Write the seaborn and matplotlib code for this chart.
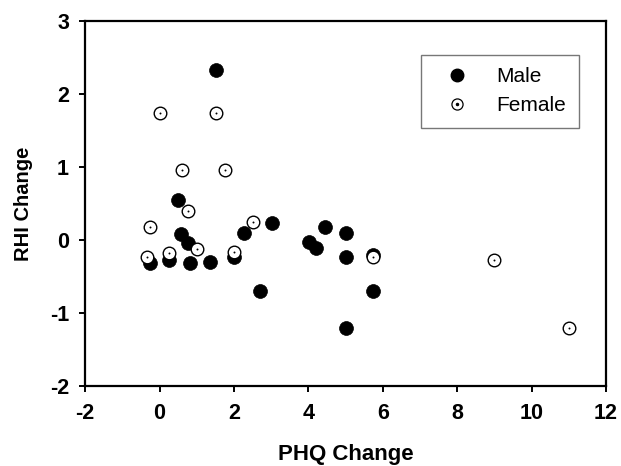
import numpy as np
import pandas as pd
import matplotlib
matplotlib.use("Agg")
import matplotlib.pyplot as plt
import seaborn as sns
from matplotlib.lines import Line2D

# values
male_phq = [1.51, 0.51, 0.59, 0.77, 0.81, -0.25, 0.26, 1.36, 2.01, 2.26,
            3.01, 2.69, 4.01, 4.21, 4.45, 5.0, 5.0, 5.0, 5.75, 5.75]
male_rhi = [2.33, 0.54, 0.08, -0.04, -0.32, -0.31, -0.27, -0.30, -0.23, 0.09,
            0.23, -0.70, -0.03, -0.11, 0.18, 0.09, -0.24, -1.21, -0.70, -0.21]
female_phq = [0.01, 1.51, 0.60, 1.75, 0.77, -0.25, -0.33, 0.26, 1.01, 2.01,
              2.51, 5.75, 9.0, 11.0]
female_rhi = [1.74, 1.74, 0.96, 0.96, 0.39, 0.18, -0.23, -0.18, -0.13, -0.17,
              0.24, -0.23, -0.27, -1.21]

df = pd.DataFrame({
    "PHQ Change": male_phq + female_phq,
    "RHI Change": male_rhi + female_rhi,
    "Sex": ["Male"] * len(male_phq) + ["Female"] * len(female_phq),
})

sns.set_style("white")
plt.rcParams["font.family"] = ["Liberation Sans", "DejaVu Sans"]
plt.rcParams["font.weight"] = "bold"
plt.rcParams["axes.unicode_minus"] = False
plt.rcParams["text.color"] = "black"
plt.rcParams["axes.labelcolor"] = "black"
plt.rcParams["xtick.color"] = "black"
plt.rcParams["ytick.color"] = "black"
plt.rcParams["xtick.labelsize"] = 15.5
plt.rcParams["ytick.labelsize"] = 15.5

fig = plt.figure(figsize=(6.21, 4.66), dpi=100)
ax = fig.add_axes([0.137, 0.172, 0.839, 0.783])

male = df[df["Sex"] == "Male"]
female = df[df["Sex"] == "Female"]

sns.scatterplot(data=male, x="PHQ Change", y="RHI Change", ax=ax,
                color="black", edgecolor="black", s=100, linewidth=0.5, zorder=3)
sns.scatterplot(data=female, x="PHQ Change", y="RHI Change", ax=ax,
                color="white", edgecolor="black", s=82, linewidth=1.0, zorder=4)
sns.scatterplot(data=female, x="PHQ Change", y="RHI Change", ax=ax,
                color="black", edgecolor="black", s=2, linewidth=0, zorder=5)

ax.set_xlim(-2, 12)
ax.set_ylim(-2, 3)
ax.set_xticks(range(-2, 13, 2))
ax.set_yticks(range(-2, 4, 1))
for s in ax.spines.values():
    s.set_color("black")
    s.set_linewidth(1.6)
ax.tick_params(bottom=True, left=True, direction="out", length=4.5, width=1.4,
               color="black", labelcolor="black")
ax.tick_params(axis="x", pad=8)
ax.tick_params(axis="y", pad=7)

ax.set_xlabel("PHQ Change", fontsize=16, fontweight="bold", labelpad=14)
ax.set_ylabel("RHI Change", fontsize=14.5, fontweight="bold", labelpad=12)

h_male = Line2D([], [], marker="o", color="black", linestyle="none", markersize=9)
h_fem_ring = Line2D([], [], marker="o", markerfacecolor="white",
                    markeredgecolor="black", markeredgewidth=0.9,
                    linestyle="none", markersize=8)
h_fem_dot = Line2D([], [], marker="o", color="black", linestyle="none",
                   markersize=1.5)
leg = ax.legend([h_male, (h_fem_ring, h_fem_dot)], ["Male", "Female"],
                loc="upper left", bbox_to_anchor=(0.645, 0.908),
                frameon=True, fancybox=False,
                prop={"size": 15, "weight": "normal"},
                handletextpad=0.82, borderpad=0.6, labelspacing=0.5,
                borderaxespad=0, handlelength=2.2)
leg.get_frame().set_edgecolor("#555555")
leg.get_frame().set_linewidth(1.0)
for t in leg.get_texts():
    t.set_color("black")

fig.savefig("out.png", dpi=100)
